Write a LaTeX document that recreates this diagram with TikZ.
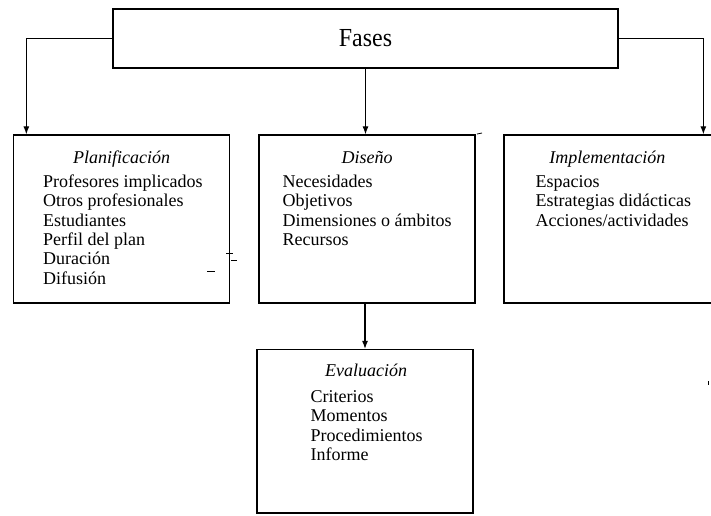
\documentclass[tikz,border=0pt]{standalone}
\usepackage{fontspec}
\setmainfont{Liberation Serif}
\usetikzlibrary{arrows.meta,calc}
\tikzset{
  box/.style={draw=black, line width=1.3pt, inner sep=0pt, rectangle},
  conn/.style={draw=black, line width=1.1pt, -{Latex[length=8pt,width=6pt]}},
  head/.style={font=\fontsize{18}{19.4}\selectfont\itshape, inner sep=0pt, anchor=base},
  item/.style={font=\fontsize{18}{19.4}\selectfont, inner sep=0pt, anchor=base west},
  speck/.style={draw=black, line width=0.8pt}
}
\begin{document}
\begin{tikzpicture}[x=1pt,y=-1pt]
\useasboundingbox (0,0) rectangle (711,515);
\clip (0,0) rectangle (711,515);
\fill[white] (0,0) rectangle (711,515);

% boxes
\node[box, minimum width=505pt, minimum height=59pt] (fases) at (365.5,38.5) {};
\node[inner sep=0pt, anchor=base] (fasest) at (365.5,46) {\scalebox{0.92}[1]{\fontsize{26}{30}\selectfont Fases}};
\node[box, minimum width=216pt, minimum height=168pt] (plan) at (121.5,219) {};
\node[box, minimum width=216pt, minimum height=168pt] (dis) at (367,219) {};
\node[box, minimum width=220pt, minimum height=168pt] (impl) at (614,219) {};
\node[box, minimum width=216pt, minimum height=163.5pt] (eval) at (365,431.25) {};

% headings
\node[head] (planh) at ($(plan.north)+(0,29)$) {Planificación};
\node[head] (dish) at ($(dis.north)+(0,29)$) {Diseño};
\node[head] (implh) at ($(impl.north west)+(104,29)$) {Implementación};
\node[head] (evalh) at ($(eval.north)+(1,27.5)$) {Evaluación};

% items
\foreach \t [count=\i] in {Profesores implicados, Otros profesionales, Estudiantes, Perfil del plan, Duración, Difusión}
  \node[item] (plan-\i) at ($(plan.north west)+(30,53+19.4*\i-19.4)$) {\t};
\foreach \t [count=\i] in {Necesidades, Objetivos, Dimensiones o ámbitos, Recursos}
  \node[item] (dis-\i) at ($(dis.north west)+(24,53+19.4*\i-19.4)$) {\t};
\foreach \t [count=\i] in {Espacios, Estrategias didácticas, Acciones/actividades}
  \node[item] (impl-\i) at ($(impl.north west)+(32,53+19.4*\i-19.4)$) {\t};
\foreach \t [count=\i] in {Criterios, Momentos, Procedimientos, Informe}
  \node[item] (eval-\i) at ($(eval.north west)+(54,53.5+19.4*\i-19.4)$) {\t};

% connectors
\draw[conn] (fases.west) -| ($(plan.north west)+(13.5,0)$);
\draw[conn] (fases.east) -| ($(impl.north west)+(200,0)$);
\draw[conn] (fases.south) -- (fases.south |- dis.north);
\draw[conn] (dis.south -| eval.north) -- (eval.north);

% scan specks
\draw[speck] (226,253) -- (233,253);
\draw[speck] (231,260) -- (237,260);
\draw[speck] (207,271) -- (215,271);
\draw[speck] (477,134) -- (482,133);
\draw[speck] (708,381) -- (708,385);
\end{tikzpicture}
\end{document}
